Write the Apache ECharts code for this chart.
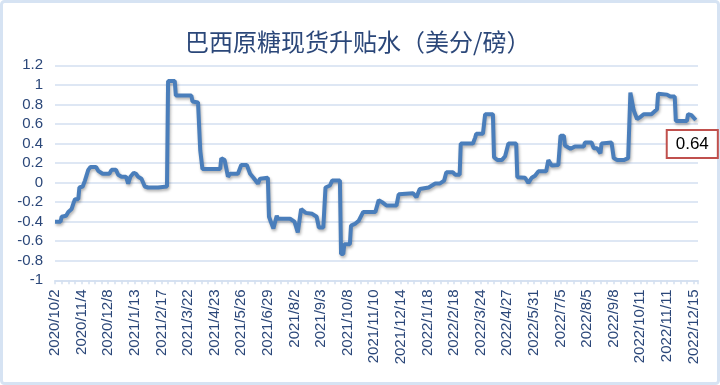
<!DOCTYPE html>
<html><head><meta charset="utf-8">
<script src="https://cdn.jsdelivr.net/npm/echarts@6/dist/echarts.min.js"></script>
<style>html,body{margin:0;padding:0;background:#fff}#c{width:720px;height:385px}</style>
</head><body><div id="c"></div>
<script>
const titleText = '巴西原糖现货升贴水（美分/磅）';
const tickLabels = ['2020/10/2','2020/11/4','2020/12/8','2021/1/13','2021/2/17','2021/3/22','2021/4/23','2021/5/26','2021/6/29','2021/8/2','2021/9/3','2021/10/8','2021/11/10','2021/12/14','2022/1/18','2022/2/18','2022/3/24','2022/4/27','2022/5/31','2022/7/5','2022/8/5','2022/9/8','2022/10/11','2022/11/11','2022/12/15'];
const labelStep = 24;   // trading days between tick labels
const tickStep = 6;     // trading days between small ticks
const lastIndex = 580;
const dayIndex = [0,5,6,10,12,15,17,18,21,22,25,27,30,32,37,39,43,49,51,55,57,60,64,66,68,71,73,75,78,81,84,93,94,101,102,108,109,123,124,129,131,133,149,150,153,156,158,165,168,173,176,179,183,185,192,193,197,200,201,212,216,219,222,226,232,236,238,242,244,248,250,257,258,260,261,266,267,271,274,278,289,292,295,299,308,310,323,326,329,337,338,343,347,351,353,359,361,365,366,377,379,380,386,388,395,396,399,403,406,409,416,417,424,427,430,433,436,443,445,448,454,456,459,460,465,469,477,478,484,486,489,492,493,502,504,507,513,517,519,520,522,525,528,531,538,540,543,544,552,555,559,560,570,571,574,578];
const premium = [-0.40,-0.40,-0.35,-0.34,-0.30,-0.27,-0.20,-0.17,-0.17,-0.05,-0.04,0.02,0.13,0.16,0.16,0.12,0.09,0.09,0.13,0.13,0.08,0.06,0.06,-0.01,0.06,0.10,0.09,0.06,0.04,-0.04,-0.05,-0.05,-0.04,-0.04,1.04,1.04,0.89,0.89,0.83,0.82,0.33,0.14,0.14,0.25,0.23,0.06,0.09,0.09,0.18,0.18,0.09,0.05,-0.01,0.04,0.05,-0.35,-0.47,-0.34,-0.37,-0.37,-0.40,-0.51,-0.27,-0.31,-0.32,-0.35,-0.46,-0.46,-0.05,-0.03,0.02,0.02,-0.73,-0.73,-0.63,-0.63,-0.44,-0.42,-0.39,-0.30,-0.30,-0.18,-0.20,-0.235,-0.235,-0.12,-0.11,-0.15,-0.065,-0.05,-0.03,-0.01,-0.01,0.02,0.105,0.105,0.08,0.08,0.40,0.40,0.46,0.50,0.50,0.70,0.70,0.26,0.23,0.23,0.27,0.40,0.40,0.055,0.05,-0.005,0.05,0.07,0.115,0.115,0.23,0.175,0.18,0.48,0.48,0.38,0.345,0.37,0.37,0.41,0.41,0.35,0.35,0.30,0.40,0.41,0.25,0.23,0.23,0.25,0.92,0.92,0.74,0.65,0.67,0.70,0.70,0.72,0.75,0.91,0.90,0.88,0.88,0.63,0.63,0.70,0.69,0.64];

const points = dayIndex.map((d, i) => [d, premium[i]]);
const last = points[points.length - 1];
const navy = '#2B4779';
const grid = '#D3DFF0';

const chart = echarts.init(document.getElementById('c'), null, {renderer: 'canvas'});
chart.setOption({
  animation: false,
  backgroundColor: '#fff',
  graphic: [{
    type: 'rect', shape: {x: 1.5, y: 1.5, width: 717, height: 382, r: 3},
    style: {fill: 'none', stroke: '#D6E3F3', lineWidth: 3}, silent: true, z: -1
  }],
  title: {
    text: titleText, left: 180, top: 25,
    textStyle: {fontFamily: 'Noto Sans CJK SC', fontSize: 24, fontWeight: 'normal', color: navy}
  },
  grid: {left: 55, right: 22, top: 65.3, bottom: 104.7},
  xAxis: [{
    type: 'value', position: 'bottom', min: 0, max: lastIndex, interval: labelStep,
    axisLine: {show: false}, axisTick: {show: false}, splitLine: {show: false},
    axisLabel: {
      rotate: 90, margin: 9, color: navy, fontSize: 15, fontFamily: 'Liberation Sans',
      formatter: v => (v % labelStep === 0 && tickLabels[v / labelStep]) ? tickLabels[v / labelStep] : ''
    }
  }, {
    type: 'value', position: 'bottom', min: 0, max: lastIndex, interval: tickStep,
    axisLine: {show: true, onZero: true, lineStyle: {color: grid, width: 1.5}},
    axisTick: {show: true, length: 4, lineStyle: {color: grid, width: 1.5}},
    splitLine: {show: false}, axisLabel: {show: false}
  }],
  yAxis: {
    type: 'value', min: -1, max: 1.2, interval: 0.2,
    axisLine: {show: false}, axisTick: {show: false},
    splitLine: {show: true, lineStyle: {color: grid, width: 1.5}},
    axisLabel: {color: navy, fontSize: 15, fontFamily: 'Liberation Sans', margin: 12,
      formatter: v => String(Math.round(v * 10) / 10)}
  },
  series: [{
    type: 'line', xAxisIndex: 0, data: points, showSymbol: false, symbol: 'none',
    lineStyle: {color: '#4A7EBB', width: 4, shadowColor: 'rgba(0,0,0,0.3)', shadowBlur: 3, shadowOffsetX: 1, shadowOffsetY: 2},
    markPoint: {
      symbol: 'circle', symbolSize: 1, itemStyle: {color: 'rgba(0,0,0,0)'},
      data: [{coord: last, value: last[1]}],
      label: {
        show: true, position: 'inside', offset: [-3.5, 24],
        formatter: p => p.value.toFixed(2),
        color: '#000', fontSize: 17, fontFamily: 'Liberation Sans',
        backgroundColor: '#fff', borderColor: '#C0504D', borderWidth: 2,
        padding: [5, 8, 4, 8]
      }
    }
  }]
});
</script></body></html>
